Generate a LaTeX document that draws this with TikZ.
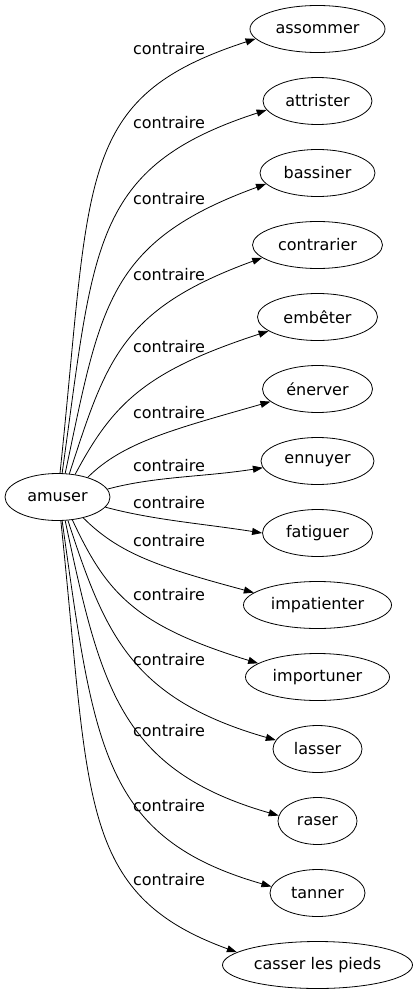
\documentclass[tikz,border=0pt]{standalone}
\usepackage{fontspec}
\setmainfont{DejaVu Sans}
\usetikzlibrary{arrows.meta, shapes.geometric}

\begin{document}
\begin{tikzpicture}[
  x=1pt, y=1pt,
  word/.style={draw, ellipse, inner sep=0pt, minimum height=47pt, line width=0.8pt, font=\fontsize{16}{19}\selectfont},
  rel/.style={inner sep=0pt, font=\fontsize{16}{19}\selectfont},
  link/.style={-{Triangle[length=10pt, width=7pt]}, line width=0.8pt}
]
  \useasboundingbox (0,0) rectangle (417,-995);

  % the word itself
  \node[word, minimum width=105pt] (amuser) at (57.5,-497) {amuser};

  % its contraries, one per row
  \foreach \n/\t/\py/\w in {assommer/assommer/29/135, attrister/attrister/101/109,
      bassiner/bassiner/173/115, contrarier/contrarier/245/130, embeter/embêter/317/120,
      enerver/énerver/389/110, ennuyer/ennuyer/461/113, fatiguer/fatiguer/533/110,
      impatienter/impatienter/605/148, importuner/importuner/677/144, lasser/lasser/749/89,
      raser/raser/821/79, tanner/tanner/893/95, casser/casser les pieds/965/190} {
    \node[word, minimum width=\w pt] (\n) at (317.5,-\py) {\t};
  }

  % edges with their labels
  \foreach \n/\sa/\so/\d/\ti/\e/\ta/\ly in {assommer/84/84/300/198/190/189/49,
      attrister/79/82/230/198/185/190/123, bassiner/72/78/170/200/170/192/199,
      contrarier/63/72/120/200/150/193/275, embeter/52/62/80/198/130/196/347,
      enerver/33/45/50/196/100/195/413, ennuyer/9/15/50/189/60/187/466,
      fatiguer/-12/-15/50/171/60/180/503, impatienter/-39/-45/50/165/100/169/541,
      importuner/-57/-65/80/163/130/167/595, lasser/-66/-72/120/164/150/168/660,
      raser/-72/-78/170/164/165/172/731, tanner/-79/-82/230/164/175/172/806,
      casser/-82/-84/280/160/170/171/880} {
    \draw[link] (amuser.\sa) .. controls +(\so:\d) and +(\ti:\e) .. (\n.\ta);
    \node[rel] (c-\n) at (169,-\ly) {contraire};
  }
\end{tikzpicture}
\end{document}
